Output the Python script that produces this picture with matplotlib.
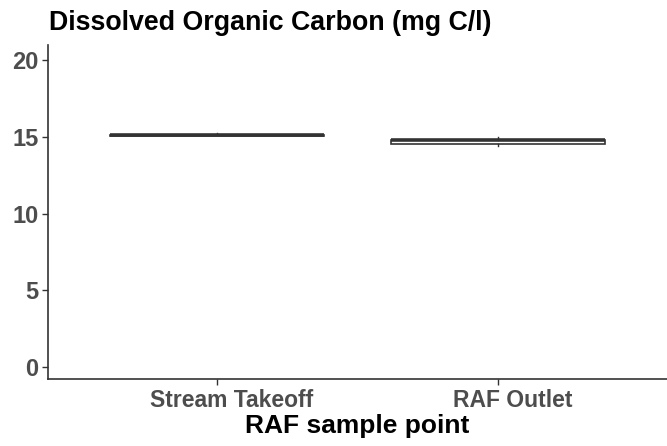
import matplotlib
matplotlib.use("Agg")
import matplotlib.pyplot as plt
import matplotlib.transforms as mtransforms

categories = ["Stream Takeoff", "RAF Outlet"]
medians = [15.10, 14.78]
q1 = [15.07, 14.55]
q3 = [15.13, 14.80]
whislo = [15.05, 14.40]
whishi = [15.25, 14.97]
yticks = [0, 5, 10, 15, 20]

plt.rcParams['font.family'] = ['Liberation Sans', 'DejaVu Sans']

fig = plt.figure(figsize=(6.67, 4.46), dpi=100)
ax = fig.add_axes([48/667, 1-379/446, (667-48)/667, (379-45)/446])

stats = []
for i, c in enumerate(categories):
    stats.append(dict(label=c, med=medians[i], q1=q1[i], q3=q3[i],
                      whislo=whislo[i], whishi=whishi[i], fliers=[]))

ax.bxp(stats, positions=[1, 2], widths=0.76, patch_artist=True, showcaps=False,
       boxprops=dict(facecolor='white', edgecolor='#333333', linewidth=1.2),
       medianprops=dict(color='#333333', linewidth=2.6),
       whiskerprops=dict(color='#333333', linewidth=1.0))

ax.set_xlim(0.4, 2.6)
ax.set_ylim(-0.78, 21.0)
ax.set_yticks(yticks)
ax.set_xticks([1, 2])
ax.set_xticklabels(categories)

for s in ['top', 'right']:
    ax.spines[s].set_visible(False)
for s in ['left', 'bottom']:
    ax.spines[s].set_color('#333333')
    ax.spines[s].set_linewidth(1.2)

ax.tick_params(axis='both', colors='#333333', length=4, width=1.0, pad=3)
for lab in ax.get_yticklabels():
    lab.set_fontsize(17)
    lab.set_fontweight('bold')
    lab.set_color('#4D4D4D')
offset = mtransforms.ScaledTranslation(15/100, 0, fig.dpi_scale_trans)
for lab in ax.get_xticklabels():
    lab.set_fontsize(16.5)
    lab.set_fontweight('bold')
    lab.set_color('#4D4D4D')
    lab.set_transform(lab.get_transform() + offset)

ax.set_xlabel("RAF sample point", fontsize=19, fontweight='bold', color='black', labelpad=2)
fig.text(49/667, 1-23/446, "Dissolved Organic Carbon (mg C/l)", fontsize=19.3,
         fontweight='bold', color='black', ha='left', va='center')

fig.savefig("out.png", dpi=100)
